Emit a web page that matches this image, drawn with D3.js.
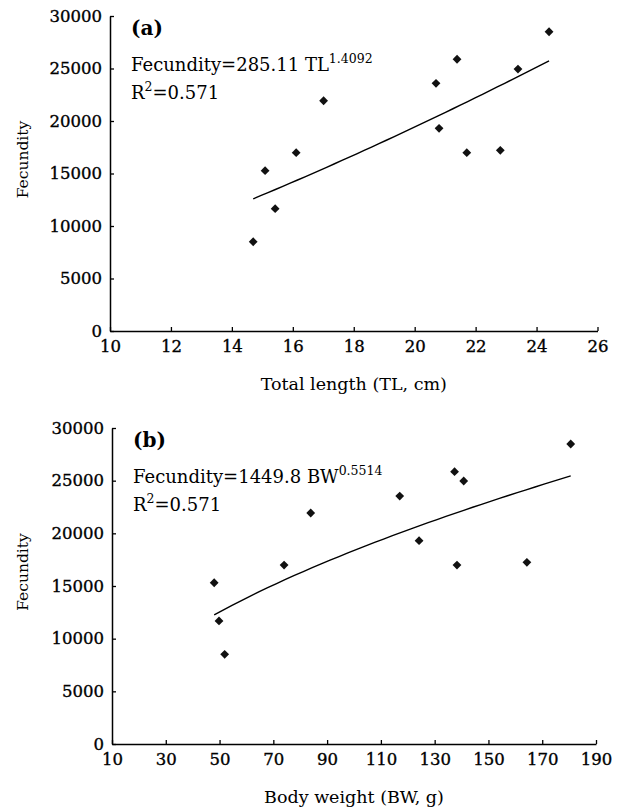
<!DOCTYPE html>
<html><head><meta charset="utf-8">
<script src="https://cdn.jsdelivr.net/npm/d3@7"></script>
<style>body{margin:0;background:#fff}svg{display:block}</style>
</head><body>
<script>
// Panel (a): total length vs fecundity
const tlValues = [14.70, 15.09, 15.42, 16.11, 17.01, 20.70, 20.80, 21.39, 21.71, 22.81, 23.39, 24.41];
const fecA     = [8500, 15270, 11650, 16980, 21930, 23590, 19300, 25880, 16980, 17210, 24950, 28500];
const tlTicks  = [10, 12, 14, 16, 18, 20, 22, 24, 26];
// Panel (b): body weight vs fecundity
const bwValues = [48.0, 49.8, 51.9, 74.0, 83.9, 117.0, 124.2, 137.4, 138.3, 140.8, 164.3, 180.6];
const fecB     = [15310, 11680, 8510, 16990, 21930, 23540, 19300, 25850, 16990, 24970, 17250, 28480];
const bwTicks  = [10, 30, 50, 70, 90, 110, 130, 150, 170, 190];
const fecTicks = [0, 5000, 10000, 15000, 20000, 25000, 30000];
// fitted power curves: Fecundity = a * X^b
const fitA = [285.11, 1.4092];
const fitB = [1449.8, 0.5514];

const W = 625, H = 811;
const svg = d3.select("body").append("svg").attr("width", W).attr("height", H);
const FONT = "DejaVu Serif";

function panel(cfg) {
  const x = d3.scaleLinear().domain(cfg.xDomain).range(cfg.xRange);
  const y = d3.scaleLinear().domain([0, 30000]).range(cfg.yRange);
  const g = svg.append("g");
  const xAxis = d3.axisBottom(x).tickValues(cfg.xTicks).tickSize(-4).tickPadding(8).tickSizeOuter(0);
  const yAxis = d3.axisLeft(y).tickValues(fecTicks).tickFormat(d3.format("d")).tickSize(-4).tickPadding(8).tickSizeOuter(0);
  const gx = g.append("g").attr("transform", `translate(0,${cfg.yRange[0]})`).call(xAxis);
  const gy = g.append("g").attr("transform", `translate(${cfg.xRange[0]},0)`).call(yAxis);
  [gx, gy].forEach(a => {
    a.selectAll("path.domain").attr("stroke", "#000").attr("stroke-width", 1.5);
    a.selectAll(".tick line").attr("stroke", "#000").attr("stroke-width", 1.3);
    a.selectAll(".tick text").attr("font-family", FONT).attr("font-size", 16.5).attr("fill", "#000")
      .attr("stroke", "#000").attr("stroke-width", 0.35);
  });
  gx.selectAll(".tick text").attr("dy", "0.78em");
  // fit curve
  const xs = cfg.xVals;
  const x0 = d3.min(xs), x1 = d3.max(xs);
  const pts = d3.range(0, 41).map(i => { const v = x0 + (x1 - x0) * i / 40; return [v, cfg.fit[0] * Math.pow(v, cfg.fit[1])]; });
  g.append("path").datum(pts)
    .attr("d", d3.line().x(d => x(d[0])).y(d => y(d[1])))
    .attr("fill", "none").attr("stroke", "#000").attr("stroke-width", 1.4);
  // points
  const r = 4.4;
  g.selectAll("path.pt").data(xs.map((v, i) => [v, cfg.yVals[i]])).join("path")
    .attr("class", "pt")
    .attr("d", `M0,${-r}L${r},0L0,${r}L${-r},0Z`)
    .attr("transform", d => `translate(${x(d[0])},${y(d[1])})`)
    .attr("fill", "#111");
  // labels
  const top = cfg.yRange[1];
  g.append("text").attr("x", cfg.xRange[0] + 21).attr("y", top + 19)
    .attr("font-family", FONT).attr("font-size", 20).attr("font-weight", "bold").text(cfg.tag);
  const eq = g.append("text").attr("x", cfg.xRange[0] + 21).attr("y", top + 55)
    .attr("font-family", FONT).attr("font-size", 18);
  eq.append("tspan").text(cfg.eq);
  eq.append("tspan").attr("dy", -8).attr("font-size", 12.5).text(cfg.exp);
  const r2 = g.append("text").attr("x", cfg.xRange[0] + 21).attr("y", top + 83)
    .attr("font-family", FONT).attr("font-size", 18);
  r2.append("tspan").text("R");
  r2.append("tspan").attr("dy", -8).attr("font-size", 12.5).text("2");
  r2.append("tspan").attr("dy", 8).text("=0.571");
  // axis titles
  g.append("text").attr("x", (cfg.xRange[0] + cfg.xRange[1]) / 2).attr("y", cfg.yRange[0] + 59)
    .attr("text-anchor", "middle").attr("font-family", FONT).attr("font-size", 17.5).text(cfg.xTitle);
  g.append("text").attr("transform", `translate(28,${(cfg.yRange[0] + cfg.yRange[1]) / 2 - 14}) rotate(-90)`)
    .attr("text-anchor", "middle").attr("font-family", FONT).attr("font-size", 15.5).text("Fecundity");
}

panel({
  xDomain: [10, 26], xRange: [110, 597.5], yRange: [331, 16], xTicks: tlTicks,
  xVals: tlValues, yVals: fecA, fit: fitA, tag: "(a)",
  eq: "Fecundity=285.11 TL", exp: "1.4092", xTitle: "Total length (TL, cm)"
});
panel({
  xDomain: [10, 190], xRange: [112, 596], yRange: [744, 428], xTicks: bwTicks,
  xVals: bwValues, yVals: fecB, fit: fitB, tag: "(b)",
  eq: "Fecundity=1449.8 BW", exp: "0.5514", xTitle: "Body weight (BW, g)"
});
</script>
</body></html>
